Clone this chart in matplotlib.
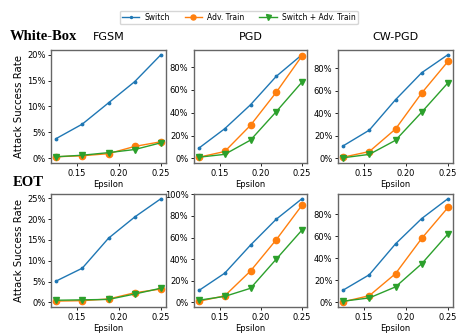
import matplotlib
matplotlib.use("Agg")
import matplotlib.pyplot as plt
from matplotlib.ticker import PercentFormatter

epsilon = [0.125, 0.15625, 0.1875, 0.21875, 0.25]
series_names = ["Switch", "Adv. Train", "Switch + Adv. Train"]
attacks = ["FGSM", "PGD", "CW-PGD"]
row_labels = ["White-Box", "EOT"]

wb_fgsm_switch = [3.8, 6.6, 10.7, 14.8, 20.0]
wb_fgsm_adv = [0.3, 0.5, 0.9, 2.3, 3.2]
wb_fgsm_both = [0.3, 0.6, 1.1, 1.7, 3.0]

wb_pgd_switch = [9, 26, 47, 72, 91]
wb_pgd_adv = [1, 6, 29, 58, 90]
wb_pgd_both = [1, 3.5, 16, 41, 67]

wb_cw_switch = [11, 25, 52, 76, 92]
wb_cw_adv = [1, 6, 26, 58, 86]
wb_cw_both = [0.5, 3.5, 16, 41, 67]

eot_fgsm_switch = [5.1, 8.2, 15.4, 20.5, 24.9]
eot_fgsm_adv = [0.3, 0.4, 0.8, 2.3, 3.2]
eot_fgsm_both = [0.5, 0.6, 0.7, 2.0, 3.4]

eot_pgd_switch = [11, 27, 53, 77, 96]
eot_pgd_adv = [1, 6, 29, 58, 90]
eot_pgd_both = [2, 5.5, 13, 40, 67]

eot_cw_switch = [11, 25, 53, 76, 94]
eot_cw_adv = [0.5, 6, 26, 58, 86]
eot_cw_both = [1, 4, 14, 35, 62]

data = [
    [(wb_fgsm_switch, wb_fgsm_adv, wb_fgsm_both),
     (wb_pgd_switch, wb_pgd_adv, wb_pgd_both),
     (wb_cw_switch, wb_cw_adv, wb_cw_both)],
    [(eot_fgsm_switch, eot_fgsm_adv, eot_fgsm_both),
     (eot_pgd_switch, eot_pgd_adv, eot_pgd_both),
     (eot_cw_switch, eot_cw_adv, eot_cw_both)],
]
yticks = [
    [[0, 5, 10, 15, 20], [0, 20, 40, 60, 80], [0, 20, 40, 60, 80]],
    [[0, 5, 10, 15, 20, 25], [0, 20, 40, 60, 80, 100], [0, 20, 40, 60, 80]],
]

colors = ["#1f77b4", "#ff7f0e", "#2ca02c"]
markers = [".", "o", "v"]
msizes = [3.5, 4.5, 4.5]

W, H = 466, 335
fig = plt.figure(figsize=(W / 100, H / 100), dpi=100)

# axes boxes in pixels: (left, right, top, bottom)
cols_px = [(51, 166), (194, 307), (338, 453)]
rows_px = [(50, 163), (194, 307)]

handles = []
for r in range(2):
    for c in range(3):
        l, rr = cols_px[c]
        t, b = rows_px[r]
        ax = fig.add_axes([l / W, 1 - b / H, (rr - l) / W, (b - t) / H])
        for s in range(3):
            h, = ax.plot(epsilon, data[r][c][s], color=colors[s], marker=markers[s],
                         markersize=msizes[s], linewidth=1.0, label=series_names[s])
            if r == 0 and c == 0:
                handles.append(h)
        ax.set_yticks(yticks[r][c])
        ax.yaxis.set_major_formatter(PercentFormatter(decimals=0))
        ax.set_xticks([0.15, 0.20, 0.25])
        ax.set_xticklabels(["0.15", "0.20", "0.25"])
        ax.set_xlim(0.119, 0.256)
        ymax = max(max(v) for v in data[r][c])
        ax.set_ylim(-0.045 * ymax, ymax * 1.045)
        ax.tick_params(labelsize=6, length=2.5, width=0.6, pad=1.5)
        for sp in ax.spines.values():
            sp.set_color("#666666")
            sp.set_linewidth(1.0)
        if r == 0:
            ax.set_title(attacks[c], fontsize=8, pad=7)
        ax.set_xlabel("Epsilon", fontsize=6, labelpad=2)
        if c == 0:
            ax.set_ylabel("Attack Success Rate", fontsize=7.3, labelpad=2)

fig.text(10 / W, 1 - 36 / H, row_labels[0], fontsize=10.5, fontweight="bold",
         family="Liberation Serif", va="center", ha="left")
fig.text(13 / W, 1 - 183 / H, row_labels[1], fontsize=10.5, fontweight="bold",
         family="Liberation Serif", va="center", ha="left")

fig.legend(handles=handles, loc="center", bbox_to_anchor=(0.512, 1 - 17.5 / H),
           ncol=3, fontsize=5.5, frameon=True, handlelength=2.3, columnspacing=2.0,
           borderpad=0.3, handletextpad=0.6, markerscale=0.8)

fig.savefig("out.png", dpi=100)
